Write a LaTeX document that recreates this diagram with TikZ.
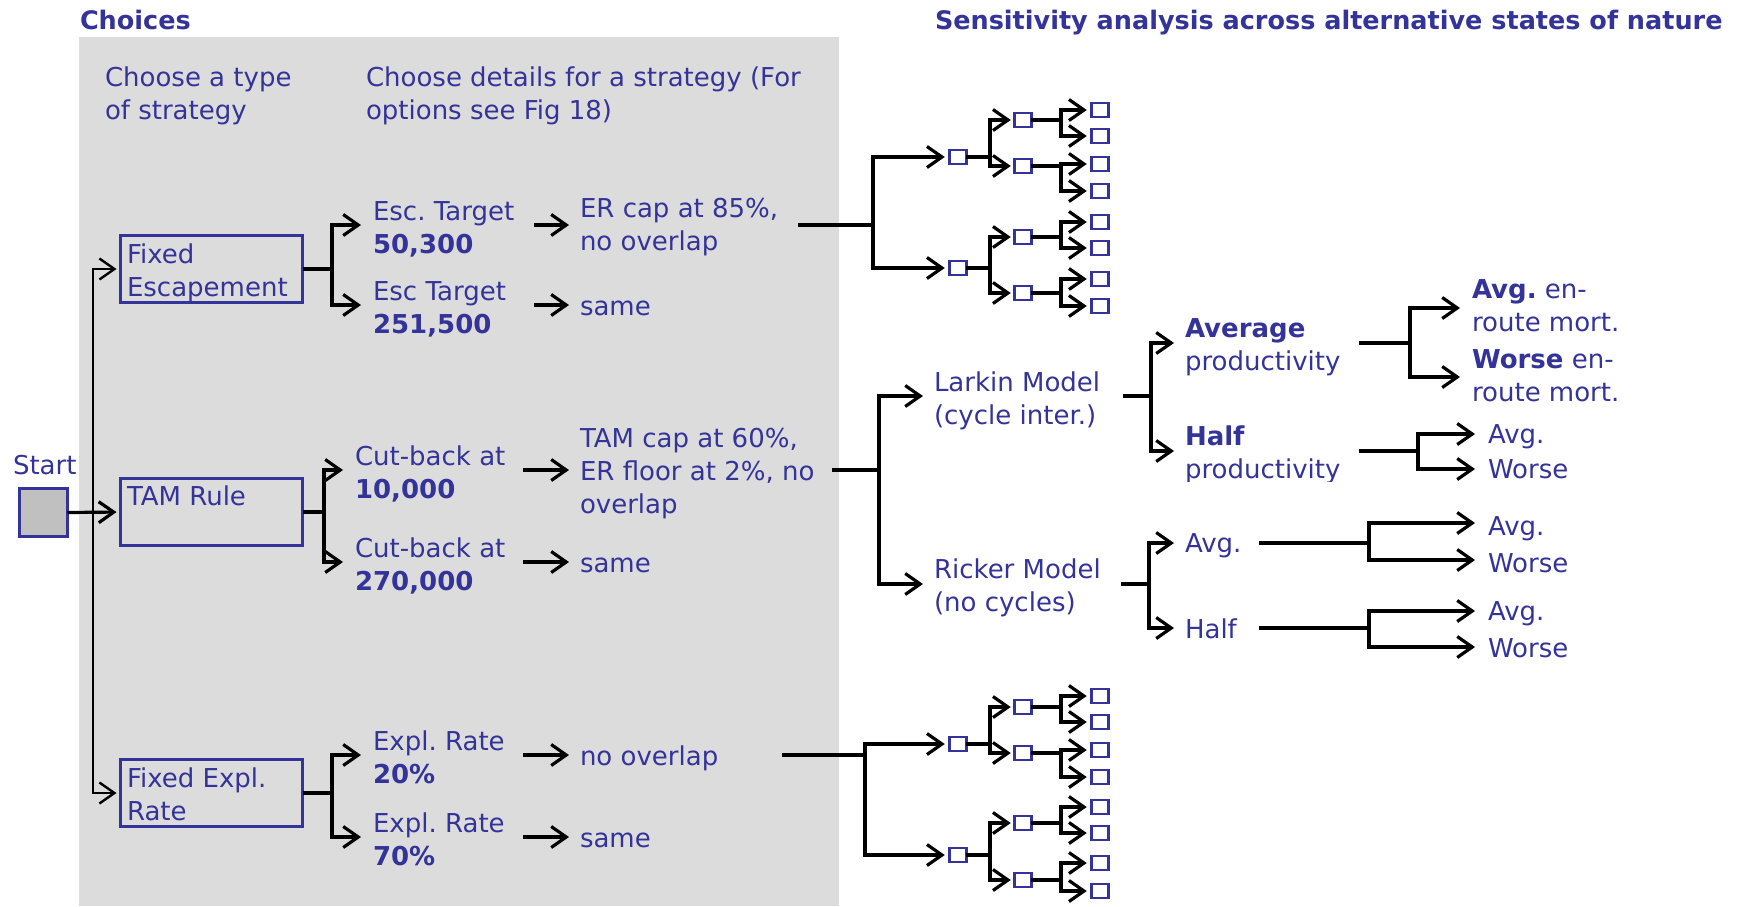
\documentclass[tikz,border=0pt]{standalone}
\usepackage{fontspec}
\setmainfont{DejaVu Sans}
\usetikzlibrary{arrows.meta}
\definecolor{ink}{RGB}{51,51,153}
\definecolor{panel}{RGB}{220,220,220}
\definecolor{startfill}{RGB}{192,192,192}
\frenchspacing
% stacked lines whose baseline is that of the first line
\newcommand\txtlines[1]{\begin{tabular}[t]{@{}l@{}}#1\end{tabular}}
\begin{document}
\begin{tikzpicture}[x=1pt,y=-1pt,
  every node/.style={font=\fontsize{26}{33}\selectfont, text=ink, inner sep=0pt, outer sep=0pt},
  txt/.style={anchor=base west},
  hd/.style={anchor=base west, font=\fontsize{25.5}{33}\selectfont\bfseries},
  choice/.style={draw=ink, line width=3pt, minimum width=182pt, minimum height=67pt},
  leaf/.style={draw=ink, fill=white, line width=2.7pt, minimum width=16.5pt, minimum height=13.8pt},
  wire/.style={draw=black, line width=3.2pt},
  arr/.style={wire, -{Straight Barb[length=15pt,width=21pt]}},
  toleaf/.style={arr, shorten >=5pt},
]
\useasboundingbox (0,0) rectangle (1739,906);

% panel of choices
\fill[panel] (79,37) rectangle (839,906);

% headings
\node[hd] (hChoices) at (80,29) {Choices};
\node[hd] (hSens) at (935,29) {Sensitivity analysis across alternative states of nature};
\node[txt] (hType) at (105,86) {\txtlines{Choose a type\\of strategy}};
\node[txt] (hDetail) at (366,86) {\txtlines{Choose details for a strategy (For\\options see Fig 18)}};

% start and strategy types
\node[txt] (startLbl) at (13,474) {Start};
\node[draw=ink, fill=startfill, line width=3pt, minimum size=48pt] (start) at (43.5,512.5) {};
\node[choice] (fe) at (211.5,269) {};
\node[choice] (tam) at (211.5,512) {};
\node[choice] (fer) at (211.5,793) {};
\node[txt] (feLbl) at (127,263) {\txtlines{Fixed\\Escapement}};
\node[txt] (tamLbl) at (127,505) {TAM Rule};
\node[txt] (ferLbl) at (127,787) {\txtlines{Fixed Expl.\\Rate}};

\coordinate (j0) at (93,512);
\draw[arr, shorten >=4pt] (start.east) -- (tam.west);
\draw[arr, line width=2.4pt, shorten >=4pt] (j0) |- (fe.west);
\draw[arr, line width=2.4pt, shorten >=4pt] (j0) |- (fer.west);

% strategy parameters
\node[txt] (escA) at (373,220) {\txtlines{Esc. Target\\\textbf{50,300}}};
\node[txt] (escB) at (373,300) {\txtlines{Esc Target\\\textbf{251,500}}};
\node[txt] (cbA) at (355,465) {\txtlines{Cut-back at\\\textbf{10,000}}};
\node[txt] (cbB) at (355,557) {\txtlines{Cut-back at\\\textbf{270,000}}};
\node[txt] (xrA) at (373,750) {\txtlines{Expl. Rate\\\textbf{20\%}}};
\node[txt] (xrB) at (373,832) {\txtlines{Expl. Rate\\\textbf{70\%}}};

\coordinate (feJ) at (332,269);
\coordinate (feT1) at (361,225);
\coordinate (feT2) at (361,305);
\draw[wire] (fe.east) -- (feJ);
\draw[arr] (feJ) |- (feT1);
\draw[arr] (feJ) |- (feT2);

\coordinate (tamJ) at (324,512);
\coordinate (tamT1) at (343,470);
\coordinate (tamT2) at (343,562);
\draw[wire] (tam.east) -- (tamJ);
\draw[arr] (tamJ) |- (tamT1);
\draw[arr] (tamJ) |- (tamT2);

\coordinate (ferJ) at (332,793);
\coordinate (ferT1) at (361,755);
\coordinate (ferT2) at (361,837);
\draw[wire] (fer.east) -- (ferJ);
\draw[arr] (ferJ) |- (ferT1);
\draw[arr] (ferJ) |- (ferT2);

% details
\node[txt] (dA) at (580,217) {\txtlines{ER cap at 85\%,\\no overlap}};
\node[txt] (dB) at (580,315) {same};
\node[txt] (dC) at (580,447) {\txtlines{TAM cap at 60\%,\\ER floor at 2\%, no\\overlap}};
\node[txt] (dD) at (580,572) {same};
\node[txt] (dE) at (580,765) {no overlap};
\node[txt] (dF) at (580,847) {same};

\coordinate (aS1) at (534,225); \coordinate (aE1) at (569,225);
\coordinate (aS2) at (534,305); \coordinate (aE2) at (569,305);
\coordinate (aS3) at (523,470); \coordinate (aE3) at (569,470);
\coordinate (aS4) at (523,562); \coordinate (aE4) at (569,562);
\coordinate (aS5) at (523,755); \coordinate (aE5) at (569,755);
\coordinate (aS6) at (523,837); \coordinate (aE6) at (569,837);
\draw[arr] (aS1) -- (aE1);
\draw[arr] (aS2) -- (aE2);
\draw[arr] (aS3) -- (aE3);
\draw[arr] (aS4) -- (aE4);
\draw[arr] (aS5) -- (aE5);
\draw[arr] (aS6) -- (aE6);

% upper tree of states
\coordinate (tR) at (798,225);
\coordinate (tJ) at (873,225);
\node[leaf] (t1) at (958,157) {};
\node[leaf] (t2) at (958,268) {};
\draw[wire] (tR) -- (tJ);
\draw[toleaf] (tJ) |- (t1.west);
\draw[toleaf] (tJ) |- (t2.west);

\node[leaf] (t11) at (1023,120) {};
\node[leaf] (t12) at (1023,166) {};
\node[leaf] (t21) at (1023,237) {};
\node[leaf] (t22) at (1023,293) {};
\coordinate (t1J) at (990,157);
\coordinate (t2J) at (990,268);
\draw[wire] (t1.east) -- (t1J);
\draw[wire] (t2.east) -- (t2J);
\draw[toleaf, shorten >=4pt] (t1J) |- (t11.west);
\draw[toleaf, shorten >=4pt] (t1J) |- (t12.west);
\draw[toleaf, shorten >=4pt] (t2J) |- (t21.west);
\draw[toleaf, shorten >=4pt] (t2J) |- (t22.west);

\node[leaf] (t111) at (1100,110) {};
\node[leaf] (t112) at (1100,136) {};
\node[leaf] (t121) at (1100,164) {};
\node[leaf] (t122) at (1100,191) {};
\node[leaf] (t211) at (1100,222) {};
\node[leaf] (t212) at (1100,248) {};
\node[leaf] (t221) at (1100,279) {};
\node[leaf] (t222) at (1100,306) {};
\coordinate (t11J) at (1061,120);
\coordinate (t12J) at (1061,166);
\coordinate (t21J) at (1061,237);
\coordinate (t22J) at (1061,293);
\draw[wire] (t11.east) -- (t11J);
\draw[wire] (t12.east) -- (t12J);
\draw[wire] (t21.east) -- (t21J);
\draw[wire] (t22.east) -- (t22J);
\draw[toleaf] (t11J) |- (t111.west);
\draw[toleaf] (t11J) |- (t112.west);
\draw[toleaf] (t12J) |- (t121.west);
\draw[toleaf] (t12J) |- (t122.west);
\draw[toleaf] (t21J) |- (t211.west);
\draw[toleaf] (t21J) |- (t212.west);
\draw[toleaf] (t22J) |- (t221.west);
\draw[toleaf] (t22J) |- (t222.west);

% lower tree of states
\coordinate (bR) at (782,755);
\coordinate (bJ) at (865,755);
\node[leaf] (b1) at (958,744) {};
\node[leaf] (b2) at (958,855) {};
\draw[wire] (bR) -- (bJ);
\draw[toleaf] (bJ) |- (b1.west);
\draw[toleaf] (bJ) |- (b2.west);

\node[leaf] (b11) at (1023,707) {};
\node[leaf] (b12) at (1023,753) {};
\node[leaf] (b21) at (1023,823) {};
\node[leaf] (b22) at (1023,880) {};
\coordinate (b1J) at (990,744);
\coordinate (b2J) at (990,855);
\draw[wire] (b1.east) -- (b1J);
\draw[wire] (b2.east) -- (b2J);
\draw[toleaf, shorten >=4pt] (b1J) |- (b11.west);
\draw[toleaf, shorten >=4pt] (b1J) |- (b12.west);
\draw[toleaf, shorten >=4pt] (b2J) |- (b21.west);
\draw[toleaf, shorten >=4pt] (b2J) |- (b22.west);

\node[leaf] (b111) at (1100,696) {};
\node[leaf] (b112) at (1100,722) {};
\node[leaf] (b121) at (1100,750) {};
\node[leaf] (b122) at (1100,777) {};
\node[leaf] (b211) at (1100,807) {};
\node[leaf] (b212) at (1100,833) {};
\node[leaf] (b221) at (1100,863) {};
\node[leaf] (b222) at (1100,891) {};
\coordinate (b11J) at (1061,707);
\coordinate (b12J) at (1061,753);
\coordinate (b21J) at (1061,823);
\coordinate (b22J) at (1061,880);
\draw[wire] (b11.east) -- (b11J);
\draw[wire] (b12.east) -- (b12J);
\draw[wire] (b21.east) -- (b21J);
\draw[wire] (b22.east) -- (b22J);
\draw[toleaf] (b11J) |- (b111.west);
\draw[toleaf] (b11J) |- (b112.west);
\draw[toleaf] (b12J) |- (b121.west);
\draw[toleaf] (b12J) |- (b122.west);
\draw[toleaf] (b21J) |- (b211.west);
\draw[toleaf] (b21J) |- (b212.west);
\draw[toleaf] (b22J) |- (b221.west);
\draw[toleaf] (b22J) |- (b222.west);

% middle tree: population models
\node[txt] (larkin) at (934,391) {\txtlines{Larkin Model\\(cycle inter.)}};
\node[txt] (ricker) at (934,578) {\txtlines{Ricker Model\\(no cycles)}};
\coordinate (mR) at (832,470);
\coordinate (mJ) at (879,470);
\coordinate (mT1) at (923,396);
\coordinate (mT2) at (923,584);
\draw[wire] (mR) -- (mJ);
\draw[arr] (mJ) |- (mT1);
\draw[arr] (mJ) |- (mT2);

% productivity under Larkin
\node[txt] (lAvg) at (1185,337) {\txtlines{\textbf{Average}\\productivity}};
\begin{scope}
  \clip (1180,415) rectangle (1400,481);
  \node[txt] (lHalf) at (1185,445) {\txtlines{\textbf{Half}\\productivity}};
\end{scope}
\coordinate (lR) at (1123,396);
\coordinate (lJ) at (1151,396);
\coordinate (lT1) at (1174,343);
\coordinate (lT2) at (1174,451);
\draw[wire] (lR) -- (lJ);
\draw[arr] (lJ) |- (lT1);
\draw[arr] (lJ) |- (lT2);

% en-route mortality
\node[txt] (mA1) at (1472,298) {\txtlines{\textbf{Avg.} en-\\route mort.}};
\node[txt] (mA2) at (1472,368) {\txtlines{\textbf{Worse} en-\\route mort.}};
\coordinate (aR) at (1359,343);
\coordinate (aJ) at (1410,343);
\coordinate (aT1) at (1460,308);
\coordinate (aT2) at (1460,377);
\draw[wire] (aR) -- (aJ);
\draw[arr] (aJ) |- (aT1);
\draw[arr] (aJ) |- (aT2);

\node[txt] (hA1) at (1488,443) {Avg.};
\node[txt] (hA2) at (1488,478) {Worse};
\coordinate (hR) at (1359,451);
\coordinate (hJ) at (1418,451);
\coordinate (hT1) at (1475,434);
\coordinate (hT2) at (1475,469);
\draw[wire] (hR) -- (hJ);
\draw[arr] (hJ) |- (hT1);
\draw[arr] (hJ) |- (hT2);

% productivity under Ricker
\node[txt] (rAvg) at (1185,552) {Avg.};
\node[txt] (rHalf) at (1185,638) {Half};
\coordinate (rR) at (1121,584);
\coordinate (rJ) at (1149,584);
\coordinate (rT1) at (1174,543);
\coordinate (rT2) at (1174,628);
\draw[wire] (rR) -- (rJ);
\draw[arr] (rJ) |- (rT1);
\draw[arr] (rJ) |- (rT2);

\node[txt] (raA) at (1488,535) {Avg.};
\node[txt] (raW) at (1488,572) {Worse};
\coordinate (raR) at (1259,543);
\coordinate (raJ) at (1369,543);
\coordinate (raT1) at (1475,523);
\coordinate (raT2) at (1475,560);
\draw[wire] (raR) -- (raJ);
\draw[arr] (raJ) |- (raT1);
\draw[arr] (raJ) |- (raT2);

\node[txt] (rhA) at (1488,620) {Avg.};
\node[txt] (rhW) at (1488,657) {Worse};
\coordinate (rhR) at (1259,628);
\coordinate (rhJ) at (1369,628);
\coordinate (rhT1) at (1475,611);
\coordinate (rhT2) at (1475,647);
\draw[wire] (rhR) -- (rhJ);
\draw[arr] (rhJ) |- (rhT1);
\draw[arr] (rhJ) |- (rhT2);
\end{tikzpicture}
\end{document}
